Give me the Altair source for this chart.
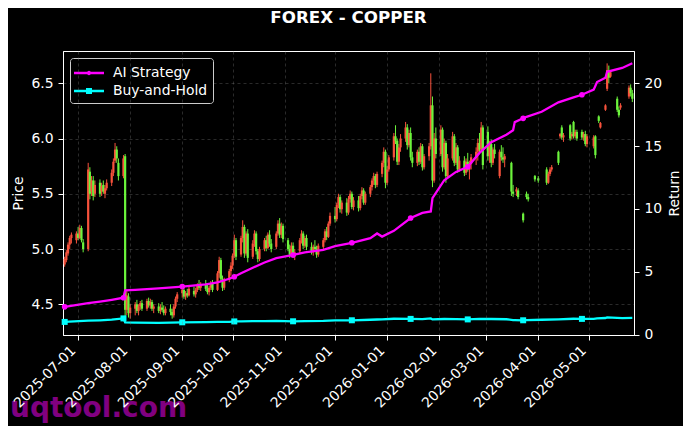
import altair as alt
import pandas as pd

TITLE = "FOREX - COPPER"
WATERMARK = "uqtool.com"
SERIES = ["AI Strategy", "Buy-and-Hold"]
SERIES_COLORS = ["#ff00ff", "#00ffff"]
UP_COLOR = "#f8523c"
DOWN_COLOR = "#6cf43c"

# trading calendar (weekdays); None = no quote that day
trade_days = [d.strftime("%Y-%m-%d") for d in pd.bdate_range("2025-06-23", "2026-05-27")]

opens = [
    4.86, 4.90, 4.96, 5.04, 5.10,  5.08, 5.14, 5.10, 5.19, 5.06,  5.00, 5.70, 5.52, 5.62, 5.50,
    5.60, 5.52, 5.58, 5.50, 5.55,  5.60, 5.69, 5.80, 5.90, 5.78,  5.66, 5.84, 4.45, 4.57, 4.42,
    4.46, 4.50, 4.44, 4.48, 4.51,  4.46, 4.53, 4.49, 4.52, 4.46,  4.48, 4.44, 4.47, 4.45, 4.42,
    4.46, 4.43, 4.40, 4.48, 4.55,  4.60, 4.63, 4.57, 4.60, 4.58,  4.62, 4.59, 4.63, 4.67, 4.65,
    4.68, 4.64, 4.61, 4.65, 4.69,  4.63, 4.78, 4.90, 4.73, 4.65,  4.72, 4.80, 4.85, 4.94, 5.08,
    4.95, 5.10, 5.20, 4.96, 5.14,  4.93, 5.05, 5.14, 4.98, 4.91,  5.00, 5.08, 5.01, 5.13, 5.05,
    5.02, 5.14, 5.23, 5.13, 5.21,  5.08, 5.00, 4.95, 5.03, 4.94,  4.98, 5.08, 5.14, 5.03, 5.10,
    5.02, 4.97, 5.02, 5.00, 4.95,  5.02, 5.08, 5.16, 5.11, 5.23,  5.30, 5.27, 5.40, 5.47, 5.36,
    5.42, 5.33, 5.45, 5.50, 5.38,  5.44, 5.37, 5.48, 5.53, 5.42,  5.50, 5.56, 5.62, 5.66, 5.58,
    5.68, 5.78, 5.88, 5.60, 5.72,  5.83, 6.02, 5.98, 5.79, 5.92,  6.00, 6.10, 5.94, 6.05, 5.83,
    5.78, 5.88, 5.79, 5.93, 5.74,  5.84, 5.93, 6.30, 5.62, 6.00,  5.86, 6.08, 5.74, 5.96, 5.66,
    5.82, 6.02, 5.78, 5.92, 5.72,  5.80, 5.69, 5.79, 5.72, 5.77,  5.83, 5.88, 5.96, 5.90, 6.10,
    6.06, 5.84, 5.95, 5.78, 5.90,  5.66, 5.88, 5.83, 5.81, None,  5.78, 5.52, None, 5.52, 5.53,
    5.32, None, 5.50, 5.47, None,  5.66, None, 5.64, None, None,  5.72, 5.60, 5.68, 5.72, None,
    5.88, 6.02, 6.10, 6.01, None,  6.12, 6.02, 6.15, 6.02, 6.06,  6.06, 6.01, 6.04, 5.95, None,
    5.93, 6.02, None, 6.20, 6.10,  6.26, 6.45, 6.62, 6.56, None,  6.36, 6.26, 6.28, None, None,
    6.38, 6.46, 6.41,
]
highs = [
    4.93, 4.99, 5.06, 5.12, 5.15,  5.16, 5.20, 5.22, 5.21, 5.09,  5.78, 5.74, 5.66, 5.66, 5.62,
    5.63, 5.60, 5.62, 5.58, 5.63,  5.72, 5.82, 5.96, 5.93, 5.82,  5.85, 5.86, 4.62, 4.60, 4.50,
    4.52, 4.54, 4.50, 4.53, 4.54,  4.55, 4.56, 4.55, 4.54, 4.50,  4.51, 4.50, 4.52, 4.49, 4.48,
    4.50, 4.46, 4.50, 4.57, 4.61,  4.66, 4.65, 4.62, 4.64, 4.66,  4.66, 4.65, 4.69, 4.72, 4.70,
    4.72, 4.68, 4.67, 4.71, 4.72,  4.80, 4.93, 4.92, 4.76, 4.74,  4.82, 4.88, 4.96, 5.13, 5.10,
    5.12, 5.26, 5.22, 5.16, 5.18,  5.08, 5.17, 5.16, 5.00, 5.02,  5.10, 5.12, 5.15, 5.17, 5.09,
    5.16, 5.26, 5.28, 5.24, 5.23,  5.10, 5.04, 5.06, 5.06, 5.00,  5.10, 5.17, 5.16, 5.12, 5.13,
    5.06, 5.04, 5.08, 5.03, 5.05,  5.10, 5.18, 5.20, 5.25, 5.33,  5.38, 5.42, 5.50, 5.49, 5.44,
    5.46, 5.48, 5.53, 5.52, 5.47,  5.48, 5.50, 5.56, 5.55, 5.52,  5.58, 5.64, 5.69, 5.68, 5.70,
    5.80, 5.92, 5.90, 5.75, 5.85,  6.05, 6.12, 6.00, 5.95, 6.04,  6.15, 6.13, 6.08, 6.10, 5.88,
    5.90, 5.92, 5.96, 5.95, 5.86,  5.96, 6.59, 6.38, 6.05, 6.10,  6.12, 6.10, 6.00, 5.98, 5.86,
    6.06, 6.04, 5.96, 5.94, 5.84,  5.84, 5.82, 5.87, 5.80, 5.86,  5.92, 6.00, 6.05, 6.15, 6.12,
    6.11, 5.98, 5.99, 5.92, 5.95,  5.90, 5.94, 5.92, 5.86, None,  5.79, 5.58, None, 5.56, 5.55,
    5.33, None, 5.52, 5.50, None,  5.67, None, 5.66, None, None,  5.74, 5.70, 5.74, 5.76, None,
    5.89, 6.05, 6.12, 6.05, None,  6.13, 6.06, 6.16, 6.08, 6.08,  6.08, 6.06, 6.07, 6.04, None,
    6.03, 6.03, None, 6.21, 6.15,  6.31, 6.68, 6.66, 6.62, None,  6.38, 6.29, 6.32, None, None,
    6.48, 6.49, 6.44,
]
lows = [
    4.84, 4.88, 4.94, 5.00, 5.05,  5.05, 5.08, 5.09, 5.06, 4.97,  4.98, 5.45, 5.48, 5.44, 5.47,
    5.47, 5.48, 5.50, 5.46, 5.53,  5.57, 5.66, 5.78, 5.78, 5.62,  5.64, 4.36, 4.40, 4.38, 4.37,
    4.40, 4.42, 4.40, 4.45, 4.44,  4.44, 4.47, 4.46, 4.44, 4.42,  4.42, 4.41, 4.43, 4.40, 4.40,
    4.40, 4.37, 4.38, 4.46, 4.52,  4.56, 4.55, 4.54, 4.56, 4.57,  4.57, 4.56, 4.61, 4.63, 4.62,
    4.62, 4.59, 4.58, 4.63, 4.61,  4.62, 4.74, 4.70, 4.62, 4.63,  4.70, 4.76, 4.82, 4.92, 4.90,
    4.93, 5.06, 4.92, 4.94, 4.88,  4.91, 5.02, 4.95, 4.88, 4.89,  4.98, 4.98, 5.00, 5.02, 4.97,
    5.00, 5.12, 5.10, 5.10, 5.06,  4.98, 4.92, 4.93, 4.92, 4.90,  4.96, 5.05, 5.00, 5.01, 4.99,
    4.95, 4.94, 4.98, 4.92, 4.93,  4.99, 5.06, 5.08, 5.10, 5.21,  5.24, 5.25, 5.37, 5.33, 5.32,
    5.30, 5.31, 5.42, 5.36, 5.35,  5.34, 5.35, 5.45, 5.40, 5.40,  5.47, 5.53, 5.58, 5.55, 5.56,
    5.65, 5.74, 5.55, 5.58, 5.70,  5.80, 5.95, 5.76, 5.76, 5.88,  5.97, 5.90, 5.92, 5.80, 5.74,
    5.75, 5.76, 5.77, 5.71, 5.72,  5.80, 5.90, 5.56, 5.60, 5.82,  5.84, 5.70, 5.72, 5.60, 5.64,
    5.80, 5.75, 5.76, 5.69, 5.70,  5.66, 5.67, 5.70, 5.63, 5.72,  5.76, 5.80, 5.86, 5.88, 5.72,
    5.80, 5.78, 5.74, 5.76, 5.82,  5.64, 5.80, 5.78, 5.74, None,  5.48, 5.47, None, 5.48, 5.45,
    5.24, None, 5.45, 5.43, None,  5.61, None, 5.60, None, None,  5.58, 5.59, 5.66, 5.70, None,
    5.76, 6.00, 5.99, 5.97, None,  5.98, 5.99, 6.00, 6.00, 5.98,  5.99, 5.98, 5.93, 5.92, None,
    5.91, 5.82, None, 6.14, 6.09,  6.25, 6.43, 6.50, 6.55, None,  6.24, 6.19, 6.26, None, None,
    6.36, 6.38, 6.33,
]
closes = [
    4.91, 4.97, 5.04, 5.10, 5.13,  5.14, 5.10, 5.19, 5.08, 5.00,  5.72, 5.50, 5.62, 5.48, 5.58,
    5.50, 5.57, 5.52, 5.55, 5.60,  5.69, 5.79, 5.90, 5.82, 5.66,  5.82, 4.45, 4.58, 4.42, 4.47,
    4.50, 4.44, 4.48, 4.51, 4.46,  4.53, 4.49, 4.52, 4.46, 4.48,  4.44, 4.47, 4.45, 4.42, 4.46,
    4.43, 4.40, 4.48, 4.55, 4.59,  4.63, 4.57, 4.60, 4.58, 4.64,  4.59, 4.63, 4.67, 4.65, 4.68,
    4.64, 4.61, 4.65, 4.69, 4.63,  4.78, 4.90, 4.73, 4.65, 4.71,  4.80, 4.85, 4.94, 5.08, 4.93,
    5.10, 5.20, 4.96, 5.14, 4.92,  5.05, 5.14, 4.98, 4.91, 5.00,  5.08, 5.01, 5.13, 5.05, 5.00,
    5.14, 5.23, 5.13, 5.21, 5.09,  5.00, 4.95, 5.03, 4.94, 4.97,  5.08, 5.14, 5.03, 5.10, 5.02,
    4.97, 5.02, 5.00, 4.95, 5.03,  5.08, 5.16, 5.11, 5.23, 5.30,  5.27, 5.40, 5.47, 5.36, 5.42,
    5.33, 5.45, 5.50, 5.38, 5.44,  5.37, 5.48, 5.53, 5.42, 5.50,  5.56, 5.62, 5.66, 5.58, 5.68,
    5.78, 5.88, 5.60, 5.72, 5.83,  6.02, 5.98, 5.79, 5.92, 6.00,  6.10, 5.94, 6.05, 5.83, 5.78,
    5.88, 5.79, 5.93, 5.74, 5.84,  5.93, 6.30, 5.62, 6.00, 5.86,  6.08, 5.74, 5.96, 5.66, 5.82,
    6.02, 5.78, 5.92, 5.72, 5.80,  5.69, 5.79, 5.72, 5.77, 5.83,  5.88, 5.96, 5.90, 6.10, 5.76,
    5.84, 5.95, 5.78, 5.90, 5.86,  5.88, 5.83, 5.81, 5.84, None,  5.52, 5.50, None, 5.54, 5.47,
    5.26, None, 5.47, 5.45, None,  5.63, None, 5.62, None, None,  5.60, 5.68, 5.72, 5.74, None,
    5.78, 6.04, 6.01, 6.03, None,  6.00, 6.04, 6.02, 6.06, 6.00,  6.01, 6.04, 5.95, 6.02, None,
    6.01, 5.85, None, 6.16, 6.14,  6.30, 6.62, 6.55, 6.60, None,  6.26, 6.21, 6.30, None, None,
    6.46, 6.41, 6.36,
]

# return curves (right axis)
ret_dates = [
    "2025-06-23", "2025-07-07", "2025-07-14", "2025-07-21", "2025-07-28", "2025-07-29",
    "2025-08-04", "2025-08-18", "2025-09-01", "2025-09-15", "2025-09-22", "2025-09-29",
    "2025-10-02", "2025-10-06", "2025-10-13", "2025-10-20", "2025-10-27", "2025-11-06",
    "2025-11-13", "2025-11-24", "2025-12-01", "2025-12-11", "2025-12-22", "2025-12-26",
    "2025-12-29", "2026-01-05", "2026-01-15", "2026-01-22", "2026-01-27", "2026-01-28",
    "2026-02-04", "2026-02-11", "2026-02-18", "2026-02-25", "2026-03-04", "2026-03-13",
    "2026-03-17", "2026-03-18", "2026-03-23", "2026-03-25", "2026-04-03", "2026-04-13",
    "2026-04-22", "2026-04-27", "2026-05-04", "2026-05-06", "2026-05-11", "2026-05-12",
    "2026-05-21", "2026-05-27",
]
ai_strategy = [
    2.22, 2.52, 2.64, 2.78, 2.94, 3.52, 3.57, 3.68, 3.83, 4.00, 4.17, 4.45,
    4.61, 4.88, 5.33, 5.74, 6.09, 6.34, 6.54, 6.75, 7.05, 7.31, 7.67, 8.05,
    7.80, 8.26, 9.28, 9.68, 9.80, 10.85, 12.28, 12.94, 13.35, 14.45, 15.30, 15.90,
    16.25, 16.90, 17.20, 17.32, 17.72, 18.47, 18.87, 19.07, 19.48, 20.08, 20.42, 20.90,
    21.20, 21.58,
]
buy_hold = [
    1.02, 1.12, 1.15, 1.20, 1.30, 0.98, 0.96, 0.95, 0.99, 1.00, 1.02, 1.03,
    1.06, 1.07, 1.08, 1.08, 1.10, 1.07, 1.09, 1.10, 1.14, 1.15, 1.19, 1.21,
    1.22, 1.27, 1.26, 1.24, 1.30, 1.22, 1.25, 1.24, 1.22, 1.26, 1.25, 1.23,
    1.17, 1.17, 1.15, 1.16, 1.19, 1.22, 1.27, 1.26, 1.26, 1.30, 1.33, 1.38,
    1.32, 1.34,
]
marker_dates = [
    "2025-06-23", "2025-07-28", "2025-09-01", "2025-10-02", "2025-11-06",
    "2025-12-11", "2026-01-15", "2026-02-18", "2026-03-23", "2026-04-27",
]

x_ticks = ["2025-07-01", "2025-08-01", "2025-09-01", "2025-10-01", "2025-11-01", "2025-12-01",
           "2026-01-01", "2026-02-01", "2026-03-01", "2026-04-01", "2026-05-01"]
x_range = ["2025-06-22", "2026-05-28"]
price_ticks = [4.5, 5.0, 5.5, 6.0, 6.5]
price_range = [4.222, 6.792]
return_ticks = [0, 5, 10, 15, 20]
return_range = [-0.02, 22.55]

FONT = "DejaVu Sans"


def dt(s):
    y, m, d = (int(v) for v in s.split("-"))
    return alt.DateTime(year=y, month=m, date=d, utc=True)


candles = pd.DataFrame({"date": trade_days, "open": opens, "high": highs,
                        "low": lows, "close": closes}).dropna()
n = len(ret_dates)
returns = pd.DataFrame({
    "date": ret_dates * 2,
    "day": ret_dates * 2,
    "series": [SERIES[0]] * n + [SERIES[1]] * n,
    "value": ai_strategy + buy_hold,
})

x_enc = alt.X(
    "date:T",
    scale=alt.Scale(type="utc", domain=[dt(s) for s in x_range], nice=False),
    axis=alt.Axis(values=[dt(s) for s in x_ticks], format="%Y-%m-%d", labelAngle=315,
                  labelAlign="right", labelBaseline="bottom", labelPadding=13,
                  labelOverlap=False, labelBound=False, grid=True, zindex=1, title=None),
)

candle_color = alt.condition("datum.close >= datum.open", alt.value(UP_COLOR), alt.value(DOWN_COLOR))

wick = alt.Chart(candles).mark_rule(strokeWidth=1).encode(
    x=x_enc,
    y=alt.Y("low:Q", scale=alt.Scale(domain=price_range, nice=False, zero=False),
            axis=alt.Axis(title="Price", orient="left", values=price_ticks, format=".1f",
                          grid=True, titlePadding=5)),
    y2="high:Q",
    color=candle_color,
)
body = alt.Chart(candles).mark_rule(strokeWidth=2.2).encode(
    x=x_enc, y=alt.Y("open:Q"), y2="close:Q", color=candle_color,
)

legend_def = alt.Legend(
    title=None, orient="none", legendX=7, legendY=7, fillColor="#000000",
    strokeColor="#cccccc", cornerRadius=3, padding=5, labelColor="white", labelFont=FONT,
    labelFontSize=13.9, labelOffset=14, symbolSize=400, symbolOffset=4, symbolStrokeWidth=0,
    symbolOpacity=1, rowPadding=1, labelLimit=300,
)
color_scale = alt.Scale(domain=SERIES, range=SERIES_COLORS)
y_ret = alt.Y("value:Q", scale=alt.Scale(domain=return_range, nice=False, zero=False),
              axis=alt.Axis(title="Return", orient="right", values=return_ticks, format="d",
                            grid=False, titleAngle=270, titleBaseline="top", titlePadding=6))

lines = alt.Chart(returns).mark_line(strokeWidth=2.3).encode(
    x=x_enc, y=y_ret, color=alt.Color("series:N", scale=color_scale, legend=legend_def),
)
marks_base = alt.Chart(returns).transform_filter(
    alt.FieldOneOfPredicate(field="day", oneOf=marker_dates))
pts_ai = marks_base.transform_filter(alt.datum.series == SERIES[0]).mark_point(
    filled=True, shape="circle", size=32, opacity=1).encode(
    x=x_enc, y=alt.Y("value:Q"), color=alt.value(SERIES_COLORS[0]))
pts_bh = marks_base.transform_filter(alt.datum.series == SERIES[1]).mark_point(
    filled=True, shape="square", size=36, opacity=1).encode(
    x=x_enc, y=alt.Y("value:Q"), color=alt.value(SERIES_COLORS[1]))

LINE_DOT = "M-1.5,-0.13H1.5V0.13H-1.5Z M0.22,0A0.22,0.22,0,1,1,-0.22,0A0.22,0.22,0,1,1,0.22,0Z"
LINE_SQ = "M-1.5,-0.13H1.5V0.13H-1.5Z M-0.3,-0.3H0.3V0.3H-0.3Z"
legend_layer = alt.Chart(returns).transform_filter("false").mark_point(filled=True).encode(
    x=x_enc, y=alt.Y("value:Q"),
    color=alt.Color("series:N", scale=color_scale, legend=legend_def),
    shape=alt.Shape("series:N", scale=alt.Scale(domain=SERIES, range=[LINE_DOT, LINE_SQ]),
                    legend=legend_def),
)

watermark = alt.Chart(pd.DataFrame({"t": [WATERMARK]})).mark_text(
    align="left", baseline="alphabetic", fontSize=28, fontWeight="bold", font=FONT,
    color="#800080").encode(text="t:N", x=alt.value(-53), y=alt.value(366))

price_layer = alt.layer(wick, body)
return_layer = alt.layer(legend_layer, lines, pts_ai, pts_bh)

chart = alt.layer(price_layer, return_layer, watermark).resolve_scale(y="independent").properties(
    width=571, height=284,
    padding={"left": 55, "top": 43, "right": 49, "bottom": 91},
    autosize=alt.AutoSizeParams(type="none"),
    background="#000000",
    title=alt.TitleParams(TITLE, color="white", fontSize=16.7, fontWeight="bold", font=FONT,
                          anchor="middle", frame="group", offset=24),
    usermeta={"embedOptions": {"defaultStyle": "body { background: #000000; }"}},
).configure_view(
    fill="#000000", stroke="#ffffff", strokeWidth=1,
).configure_axis(
    domainColor="white", tickColor="white", labelColor="white", titleColor="white",
    labelFont=FONT, titleFont=FONT, labelFontSize=13.9, titleFontSize=13.9,
    titleFontWeight="normal", tickSize=5, labelPadding=5, domainWidth=1,
    gridColor="#808080", gridOpacity=0.55, gridDash=[3, 3], gridWidth=0.6,
)

chart.save("out.html", embed_options={"renderer": "svg", "actions": False})
